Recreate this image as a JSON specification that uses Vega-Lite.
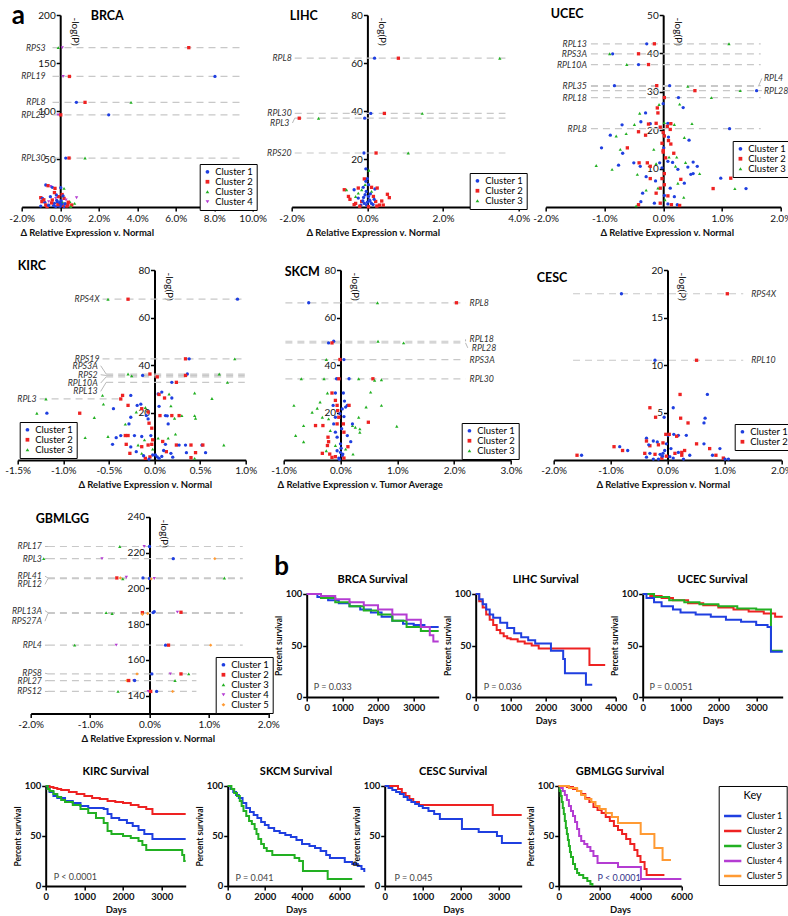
{
"$schema":"https://vega.github.io/schema/vega-lite/v6.json",
"padding":{"left":4.7,"top":3,"right":3,"bottom":3},
"config":{
 "font":"Lato, DejaVu Sans, sans-serif",
 "view":{"stroke":null},
 "axis":{"grid":false,"domainColor":"#000","tickColor":"#000","labelColor":"#111","titleColor":"#111","domainWidth":2,"tickWidth":1.5,"tickSize":4,"labelOverlap":false,"labelFlush":false},
 "title":{"fontWeight":"bold","color":"#000"},
 "concat":{"spacing":0}
},
"spacing":22,
"resolve":{"scale":{"color":"independent","shape":"independent"},"legend":{"color":"independent","shape":"independent"}},
"vconcat":[
{"bounds":"flush","spacing":0,
 "resolve":{"scale":{"color":"independent","shape":"independent"},"legend":{"color":"independent","shape":"independent"}},
 "hconcat":[
 {"width":3.3,"height":192,"data":{"values":[]},"mark":"point","title":{"text":"a","anchor":"start","frame":"group","fontSize":26,"offset":-14,"dx":-6}},
 {"width":231,"height":192,
  "title":{"text":"BRCA","anchor":"start","frame":"group","dx":69,"offset":-12,"fontSize":12.5},
  "layer":[
   {"data":{"name":"brca_g"},"mark":{"type":"rule","color":"#c8c8c8","strokeDash":[7,5],"strokeWidth":1.2},"encoding":{"x":{"field":"x0","type":"quantitative","scale":{"domain":[-2,10],"nice":false,"zero":false}},"x2":{"field":"x1"},"y":{"field":"y","type":"quantitative","scale":{"domain":[0,200],"nice":false,"zero":false}}}},
   {"data":{"name":"brca_g"},"mark":{"type":"text","align":"right","baseline":"middle","dx":-4,"fontStyle":"italic","fontSize":8.8,"color":"#333"},"encoding":{"x":{"field":"lx","type":"quantitative"},"y":{"field":"ly","type":"quantitative"},"text":{"field":"g"}}},
   {"data":{"name":"brca_p"},"mark":{"type":"point","filled":true,"size":11,"opacity":1},
    "encoding":{
     "x":{"field":"x","type":"quantitative","axis":{"values":[-2,0,2,4,6,8,10],"tickCount":20,"labelOverlap":false,"labelExpr":"replace(format(datum.value,'.1f'),'\u2212','-')+'%'","title":"Δ Relative Expression v. Normal","titleX":65,"titleY":25,"titleAlign":"center","titleBaseline":"middle","titleFontSize":9.5,"titleFontWeight":"bold","labelFontSize":10,"labelPadding":2}},
     "y":{"field":"y","type":"quantitative","axis":{"values":[50,100,150,200],"tickCount":20,"labelOverlap":false,"offset":-38.5,"title":"-log(P)","titleAngle":90,"titleX":9,"titleY":2,"titleAlign":"left","titleBaseline":"bottom","titleFontWeight":"normal","titleFontSize":10,"labelFontSize":10,"labelPadding":1}},
     "color":{"field":"c","type":"nominal","scale":{"domain":[1,2,3,4],"range":["#1f3fe0","#ee2222","#22b022","#b43cd2"]},"legend":{"orient":"none","legendX":178,"legendY":149,"title":null,"strokeColor":"#000","padding":3,"fillColor":"#fff","labelFontSize":9.5,"symbolSize":14,"rowPadding":-1,"labelOffset":3,"labelExpr":"'Cluster ' + datum.label"}},
     "shape":{"field":"c","type":"nominal","scale":{"domain":[1,2,3,4],"range":["circle","square","triangle-up","triangle-down"]}}}}
  ]},
 {"width":38.3,"height":192,"data":{"values":[]},"mark":"point"},
 {"width":227,"height":192,
  "title":{"text":"LIHC","anchor":"start","frame":"group","dx":-2,"offset":-12,"fontSize":12.5},
  "layer":[
   {"data":{"name":"lihc_g"},"mark":{"type":"rule","color":"#c8c8c8","strokeDash":[7,5],"strokeWidth":1.2},"encoding":{"x":{"field":"x0","type":"quantitative","scale":{"domain":[-2,4],"nice":false,"zero":false}},"x2":{"field":"x1"},"y":{"field":"y","type":"quantitative","scale":{"domain":[0,80],"nice":false,"zero":false}}}},
   {"data":{"name":"lihc_g"},"mark":{"type":"rule","color":"#999","strokeWidth":0.7},"encoding":{"x":{"field":"lx","type":"quantitative"},"x2":{"field":"x0"},"y":{"field":"ly","type":"quantitative"},"y2":{"field":"y"}}},
   {"data":{"name":"lihc_g"},"mark":{"type":"text","align":"right","baseline":"middle","dx":-3,"fontStyle":"italic","fontSize":8.8,"color":"#333"},"encoding":{"x":{"field":"lx","type":"quantitative"},"y":{"field":"ly","type":"quantitative"},"text":{"field":"g"}}},
   {"data":{"name":"lihc_p"},"mark":{"type":"point","filled":true,"size":11,"opacity":1},
    "encoding":{
     "x":{"field":"x","type":"quantitative","axis":{"values":[-2,0,2,4],"tickCount":20,"labelOverlap":false,"labelExpr":"replace(format(datum.value,'.1f'),'\u2212','-')+'%'","title":"Δ Relative Expression v. Normal","titleX":81,"titleY":25,"titleAlign":"center","titleBaseline":"middle","titleFontSize":9.5,"titleFontWeight":"bold","labelFontSize":10,"labelPadding":2}},
     "y":{"field":"y","type":"quantitative","axis":{"values":[20,40,60,80],"tickCount":20,"labelOverlap":false,"offset":-75.7,"title":"-log(P)","titleAngle":90,"titleX":9,"titleY":2,"titleAlign":"left","titleBaseline":"bottom","titleFontWeight":"normal","titleFontSize":10,"labelFontSize":10,"labelPadding":1}},
     "color":{"field":"c","type":"nominal","scale":{"domain":[1,2,3],"range":["#1f3fe0","#ee2222","#22b022"]},"legend":{"orient":"none","legendX":178,"legendY":158,"title":null,"strokeColor":"#000","padding":3,"fillColor":"#fff","labelFontSize":9.5,"symbolSize":14,"rowPadding":-1,"labelOffset":3,"labelExpr":"'Cluster ' + datum.label"}},
     "shape":{"field":"c","type":"nominal","scale":{"domain":[1,2,3],"range":["circle","square","triangle-up"]}}}}
  ]},
 {"width":26.7,"height":192,"data":{"values":[]},"mark":"point"},
 {"width":235,"height":192,
  "title":{"text":"UCEC","anchor":"start","frame":"group","dx":5,"offset":-10,"fontSize":12.5},
  "layer":[
   {"data":{"name":"ucec_g"},"mark":{"type":"rule","color":"#c8c8c8","strokeDash":[7,5],"strokeWidth":1.2},"encoding":{"x":{"field":"x0","type":"quantitative","scale":{"domain":[-2,2],"nice":false,"zero":false}},"x2":{"field":"x1"},"y":{"field":"y","type":"quantitative","scale":{"domain":[0,50],"nice":false,"zero":false}}}},
   {"data":{"name":"ucec_g"},"transform":[{"filter":"datum.s=='R'"}],"mark":{"type":"rule","color":"#999","strokeWidth":0.7},"encoding":{"x":{"field":"x1","type":"quantitative"},"x2":{"field":"lx"},"y":{"field":"y","type":"quantitative"},"y2":{"field":"ly"}}},
   {"data":{"name":"ucec_g"},"transform":[{"filter":"datum.s=='L'"}],"mark":{"type":"text","align":"right","baseline":"middle","dx":-4,"fontStyle":"italic","fontSize":8.8,"color":"#333"},"encoding":{"x":{"field":"lx","type":"quantitative"},"y":{"field":"ly","type":"quantitative"},"text":{"field":"g"}}},
   {"data":{"name":"ucec_g"},"transform":[{"filter":"datum.s=='R'"}],"mark":{"type":"text","align":"left","baseline":"middle","dx":2,"fontStyle":"italic","fontSize":8.8,"color":"#333"},"encoding":{"x":{"field":"lx","type":"quantitative"},"y":{"field":"ly","type":"quantitative"},"text":{"field":"g"}}},
   {"data":{"name":"ucec_p"},"mark":{"type":"point","filled":true,"size":11,"opacity":1},
    "encoding":{
     "x":{"field":"x","type":"quantitative","axis":{"values":[-2,-1,0,1,2],"tickCount":20,"labelOverlap":false,"labelExpr":"replace(format(datum.value,'.1f'),'\u2212','-')+'%'","title":"Δ Relative Expression v. Normal","titleX":121,"titleY":25,"titleAlign":"center","titleBaseline":"middle","titleFontSize":9.5,"titleFontWeight":"bold","labelFontSize":10,"labelPadding":2}},
     "y":{"field":"y","type":"quantitative","axis":{"values":[10,20,30,40,50],"tickCount":20,"labelOverlap":false,"offset":-117.5,"title":"-log(P)","titleAngle":90,"titleX":9,"titleY":2,"titleAlign":"left","titleBaseline":"bottom","titleFontWeight":"normal","titleFontSize":10,"labelFontSize":10,"labelPadding":1}},
     "color":{"field":"c","type":"nominal","scale":{"domain":[1,2,3],"range":["#1f3fe0","#ee2222","#22b022"]},"legend":{"orient":"none","legendX":187,"legendY":126,"title":null,"strokeColor":"#000","padding":3,"fillColor":"#fff","labelFontSize":9.5,"symbolSize":14,"rowPadding":-1,"labelOffset":3,"labelExpr":"'Cluster ' + datum.label"}},
     "shape":{"field":"c","type":"nominal","scale":{"domain":[1,2,3],"range":["circle","square","triangle-up"]}}}}
  ]}
 ]},
{"bounds":"flush","spacing":0,
 "resolve":{"scale":{"color":"independent","shape":"independent"},"legend":{"color":"independent","shape":"independent"}},
 "hconcat":[
 {"width":228,"height":190,
  "title":{"text":"KIRC","anchor":"start","frame":"group","dx":0,"offset":-7,"fontSize":12.5},
  "layer":[
   {"data":{"name":"kirc_g"},"mark":{"type":"rule","color":"#c8c8c8","strokeDash":[7,5],"strokeWidth":1.2},"encoding":{"x":{"field":"x0","type":"quantitative","scale":{"domain":[-1.5,1],"nice":false,"zero":false}},"x2":{"field":"x1"},"y":{"field":"y","type":"quantitative","scale":{"domain":[0,80],"nice":false,"zero":false}}}},
   {"data":{"name":"kirc_g"},"mark":{"type":"rule","color":"#999","strokeWidth":0.7},"encoding":{"x":{"field":"lx","type":"quantitative"},"x2":{"field":"x0"},"y":{"field":"ly","type":"quantitative"},"y2":{"field":"y"}}},
   {"data":{"name":"kirc_g"},"mark":{"type":"text","align":"right","baseline":"middle","dx":-3,"fontStyle":"italic","fontSize":8.8,"color":"#333"},"encoding":{"x":{"field":"lx","type":"quantitative"},"y":{"field":"ly","type":"quantitative"},"text":{"field":"g"}}},
   {"data":{"name":"kirc_p"},"mark":{"type":"point","filled":true,"size":11,"opacity":1},
    "encoding":{
     "x":{"field":"x","type":"quantitative","axis":{"values":[-1.5,-1,-0.5,0,0.5,1],"tickCount":20,"labelOverlap":false,"labelExpr":"replace(format(datum.value,'.1f'),'\u2212','-')+'%'","title":"Δ Relative Expression v. Normal","titleX":127,"titleY":25,"titleAlign":"center","titleBaseline":"middle","titleFontSize":9.5,"titleFontWeight":"bold","labelFontSize":10,"labelPadding":2}},
     "y":{"field":"y","type":"quantitative","axis":{"values":[20,40,60,80],"tickCount":20,"labelOverlap":false,"offset":-136.8,"title":"-log(P)","titleAngle":90,"titleX":9,"titleY":2,"titleAlign":"left","titleBaseline":"bottom","titleFontWeight":"normal","titleFontSize":10,"labelFontSize":10,"labelPadding":1}},
     "color":{"field":"c","type":"nominal","scale":{"domain":[1,2,3],"range":["#1f3fe0","#ee2222","#22b022"]},"legend":{"orient":"none","legendX":2,"legendY":152,"title":null,"strokeColor":"#000","padding":3,"fillColor":"#fff","labelFontSize":9.5,"symbolSize":14,"rowPadding":-1,"labelOffset":3,"labelExpr":"'Cluster ' + datum.label"}},
     "shape":{"field":"c","type":"nominal","scale":{"domain":[1,2,3],"range":["circle","square","triangle-up"]}}}}
  ]},
 {"width":38,"height":190,"data":{"values":[]},"mark":"point"},
 {"width":227.3,"height":190,
  "title":{"text":"SKCM","anchor":"start","frame":"group","dx":1,"offset":-13,"fontSize":12.5},
  "layer":[
   {"data":{"name":"skcm_g"},"mark":{"type":"rule","color":"#c8c8c8","strokeDash":[7,5],"strokeWidth":1.2},"encoding":{"x":{"field":"x0","type":"quantitative","scale":{"domain":[-1,3],"nice":false,"zero":false}},"x2":{"field":"x1"},"y":{"field":"y","type":"quantitative","scale":{"domain":[0,80],"nice":false,"zero":false}}}},
   {"data":{"name":"skcm_g"},"mark":{"type":"rule","color":"#999","strokeWidth":0.7},"encoding":{"x":{"field":"x1","type":"quantitative"},"x2":{"field":"lx"},"y":{"field":"y","type":"quantitative"},"y2":{"field":"ly"}}},
   {"data":{"name":"skcm_g"},"mark":{"type":"text","align":"left","baseline":"middle","dx":4,"fontStyle":"italic","fontSize":8.8,"color":"#333"},"encoding":{"x":{"field":"lx","type":"quantitative"},"y":{"field":"ly","type":"quantitative"},"text":{"field":"g"}}},
   {"data":{"name":"skcm_p"},"mark":{"type":"point","filled":true,"size":11,"opacity":1},
    "encoding":{
     "x":{"field":"x","type":"quantitative","axis":{"values":[-1,0,1,2,3],"tickCount":20,"labelOverlap":false,"labelExpr":"replace(format(datum.value,'.1f'),'\u2212','-')+'%'","title":"Δ Relative Expression v. Tumor Average","titleX":76,"titleY":25,"titleAlign":"center","titleBaseline":"middle","titleFontSize":9.5,"titleFontWeight":"bold","labelFontSize":10,"labelPadding":2}},
     "y":{"field":"y","type":"quantitative","axis":{"values":[20,40,60,80],"tickCount":20,"labelOverlap":false,"offset":-56.8,"title":"-log(P)","titleAngle":90,"titleX":9,"titleY":2,"titleAlign":"left","titleBaseline":"bottom","titleFontWeight":"normal","titleFontSize":10,"labelFontSize":10,"labelPadding":1}},
     "color":{"field":"c","type":"nominal","scale":{"domain":[1,2,3],"range":["#1f3fe0","#ee2222","#22b022"]},"legend":{"orient":"none","legendX":178,"legendY":153,"title":null,"strokeColor":"#000","padding":3,"fillColor":"#fff","labelFontSize":9.5,"symbolSize":14,"rowPadding":-1,"labelOffset":3,"labelExpr":"'Cluster ' + datum.label"}},
     "shape":{"field":"c","type":"nominal","scale":{"domain":[1,2,3],"range":["circle","square","triangle-up"]}}}}
  ]},
 {"width":42,"height":190,"data":{"values":[]},"mark":"point"},
 {"width":227.7,"height":190,
  "title":{"text":"CESC","anchor":"start","frame":"group","dx":-17,"offset":-19,"fontSize":12.5},
  "layer":[
   {"data":{"name":"cesc_g"},"mark":{"type":"rule","color":"#c8c8c8","strokeDash":[7,5],"strokeWidth":1.2},"encoding":{"x":{"field":"x0","type":"quantitative","scale":{"domain":[-2,2],"nice":false,"zero":false}},"x2":{"field":"x1"},"y":{"field":"y","type":"quantitative","scale":{"domain":[0,20],"nice":false,"zero":false}}}},
   {"data":{"name":"cesc_g"},"mark":{"type":"text","align":"left","baseline":"middle","dx":8,"fontStyle":"italic","fontSize":8.8,"color":"#333"},"encoding":{"x":{"field":"lx","type":"quantitative"},"y":{"field":"ly","type":"quantitative"},"text":{"field":"g"}}},
   {"data":{"name":"cesc_p"},"mark":{"type":"point","filled":true,"size":11,"opacity":1},
    "encoding":{
     "x":{"field":"x","type":"quantitative","axis":{"values":[-2,-1,0,1,2],"tickCount":20,"labelOverlap":false,"labelExpr":"replace(format(datum.value,'.1f'),'\u2212','-')+'%'","title":"Δ Relative Expression v. Normal","titleX":109,"titleY":25,"titleAlign":"center","titleBaseline":"middle","titleFontSize":9.5,"titleFontWeight":"bold","labelFontSize":10,"labelPadding":2}},
     "y":{"field":"y","type":"quantitative","axis":{"values":[5,10,15,20],"tickCount":20,"labelOverlap":false,"offset":-113.8,"title":"-log(P)","titleAngle":90,"titleX":9,"titleY":2,"titleAlign":"left","titleBaseline":"bottom","titleFontWeight":"normal","titleFontSize":10,"labelFontSize":10,"labelPadding":1}},
     "color":{"field":"c","type":"nominal","scale":{"domain":[1,2],"range":["#1f3fe0","#ee2222"]},"legend":{"orient":"none","legendX":181,"legendY":154,"title":null,"strokeColor":"#000","padding":3,"fillColor":"#fff","labelFontSize":9.5,"symbolSize":14,"rowPadding":-1,"labelOffset":3,"labelExpr":"'Cluster ' + datum.label"}},
     "shape":{"field":"c","type":"nominal","scale":{"domain":[1,2],"range":["circle","square"]}}}}
  ]}
 ]},
{"bounds":"flush","spacing":0,
 "resolve":{"scale":{"color":"independent","shape":"independent"},"legend":{"color":"independent","shape":"independent"}},
 "hconcat":[
 {"width":13,"height":196.6,"data":{"values":[]},"mark":"point"},
 {"width":237.6,"height":196.6,
  "title":{"text":"GBMLGG","anchor":"start","frame":"group","dx":5,"offset":-14,"fontSize":12.5},
  "layer":[
   {"data":{"name":"gbm_g"},"mark":{"type":"rule","color":"#c8c8c8","strokeDash":[7,5],"strokeWidth":1.2},"encoding":{"x":{"field":"x0","type":"quantitative","scale":{"domain":[-2,2],"nice":false,"zero":false}},"x2":{"field":"x1"},"y":{"field":"y","type":"quantitative","scale":{"domain":[130,240],"nice":false,"zero":false}}}},
   {"data":{"name":"gbm_g"},"mark":{"type":"rule","color":"#999","strokeWidth":0.7},"encoding":{"x":{"field":"lx","type":"quantitative"},"x2":{"field":"x0"},"y":{"field":"ly","type":"quantitative"},"y2":{"field":"y"}}},
   {"data":{"name":"gbm_g"},"mark":{"type":"text","align":"right","baseline":"middle","dx":-3,"fontStyle":"italic","fontSize":8.8,"color":"#333"},"encoding":{"x":{"field":"lx","type":"quantitative"},"y":{"field":"ly","type":"quantitative"},"text":{"field":"g"}}},
   {"data":{"name":"gbm_p"},"mark":{"type":"point","filled":true,"size":11,"opacity":1},
    "encoding":{
     "x":{"field":"x","type":"quantitative","axis":{"values":[-2,-1,0,1,2],"tickCount":20,"labelOverlap":false,"labelExpr":"replace(format(datum.value,'.1f'),'\u2212','-')+'%'","title":"Δ Relative Expression v. Normal","titleX":117,"titleY":25,"titleAlign":"center","titleBaseline":"middle","titleFontSize":9.5,"titleFontWeight":"bold","labelFontSize":10,"labelPadding":2}},
     "y":{"field":"y","type":"quantitative","axis":{"values":[140,160,180,200,220,240],"tickCount":20,"labelOverlap":false,"offset":-118.8,"title":"-log(P)","titleAngle":90,"titleX":9,"titleY":2,"titleAlign":"left","titleBaseline":"bottom","titleFontWeight":"normal","titleFontSize":10,"labelFontSize":10,"labelPadding":1}},
     "color":{"field":"c","type":"nominal","scale":{"domain":[1,2,3,4,5],"range":["#1f3fe0","#ee2222","#22b022","#b43cd2","#ff9a33"]},"legend":{"orient":"none","legendX":185,"legendY":140,"title":null,"strokeColor":"#000","padding":3,"fillColor":"#fff","labelFontSize":9.5,"symbolSize":14,"rowPadding":-1,"labelOffset":3,"labelExpr":"'Cluster ' + datum.label"}},
     "shape":{"field":"c","type":"nominal","scale":{"domain":[1,2,3,4,5],"range":["circle","square","triangle-up","triangle-down","diamond"]}}}}
  ]},
 {"width":37.7,"height":196.6,"data":{"values":[]},"mark":"point"},
 {"spacing":2,
  "resolve":{"scale":{"color":"independent","shape":"independent"},"legend":{"color":"independent","shape":"independent"}},
  "vconcat":[
  {"width":10,"height":35,"data":{"values":[]},"mark":"point"},
  {"title":{"text":"b","anchor":"start","frame":"bounds","fontSize":26,"offset":-6},
   "bounds":"flush","spacing":0,
   "resolve":{"scale":{"color":"independent","shape":"independent"},"legend":{"color":"independent","shape":"independent"}},
   "hconcat":[
   {"width":132,"height":103,"title":{"text":"BRCA Survival","fontSize":11,"offset":4},
    "layer":[
     {"data":{"name":"brca_s"},"mark":{"type":"line","interpolate":"step-after","strokeWidth":2},
      "encoding":{"x":{"field":"t","type":"quantitative","scale":{"domain":[0,3700],"nice":false,"zero":false},"axis":{"values":[0,1000,2000,3000],"tickCount":20,"labelOverlap":false,"format":"d","title":"Days","titleFontSize":9.5,"titleFontWeight":"bold","labelFontWeight":"bold","labelFontSize":9.5,"labelPadding":2,"titlePadding":3}},
       "y":{"field":"s","type":"quantitative","scale":{"domain":[0,100],"nice":false},"axis":{"values":[0,50,100],"tickCount":20,"labelOverlap":false,"title":"Percent survival","titleFontSize":8.5,"titleFontWeight":"bold","labelFontWeight":"bold","labelFontSize":9.5,"labelPadding":1,"titlePadding":2}},
       "color":{"field":"c","type":"nominal","scale":{"domain":[1,3,4],"range":["#1f3fe0","#22b022","#b43cd2"]},"legend":null}}},
     {"data":{"values":[{"p":"P = 0.033","t":200,"s":10}]},"mark":{"type":"text","align":"left","baseline":"middle","fontSize":9,"color":"#444"},"encoding":{"x":{"field":"t","type":"quantitative"},"y":{"field":"s","type":"quantitative"},"text":{"field":"p"}}}
    ]},
   {"width":37,"height":103,"data":{"values":[]},"mark":"point"},
   {"width":140,"height":103,"title":{"text":"LIHC Survival","fontSize":11,"offset":4},
    "layer":[
     {"data":{"name":"lihc_s"},"mark":{"type":"line","interpolate":"step-after","strokeWidth":2},
      "encoding":{"x":{"field":"t","type":"quantitative","scale":{"domain":[0,4000],"nice":false,"zero":false},"axis":{"values":[0,1000,2000,3000,4000],"tickCount":20,"labelOverlap":false,"format":"d","title":"Days","titleFontSize":9.5,"titleFontWeight":"bold","labelFontWeight":"bold","labelFontSize":9.5,"labelPadding":2,"titlePadding":3}},
       "y":{"field":"s","type":"quantitative","scale":{"domain":[0,100],"nice":false},"axis":{"values":[0,50,100],"tickCount":20,"labelOverlap":false,"title":"Percent survival","titleFontSize":8.5,"titleFontWeight":"bold","labelFontWeight":"bold","labelFontSize":9.5,"labelPadding":1,"titlePadding":2}},
       "color":{"field":"c","type":"nominal","scale":{"domain":[1,2],"range":["#1f3fe0","#ee2222"]},"legend":null}}},
     {"data":{"values":[{"p":"P = 0.036","t":230,"s":10}]},"mark":{"type":"text","align":"left","baseline":"middle","fontSize":9,"color":"#444"},"encoding":{"x":{"field":"t","type":"quantitative"},"y":{"field":"s","type":"quantitative"},"text":{"field":"p"}}}
    ]},
   {"width":26.7,"height":103,"data":{"values":[]},"mark":"point"},
   {"width":140,"height":103,"title":{"text":"UCEC Survival","fontSize":11,"offset":4},
    "layer":[
     {"data":{"name":"ucec_s"},"mark":{"type":"line","interpolate":"step-after","strokeWidth":2},
      "encoding":{"x":{"field":"t","type":"quantitative","scale":{"domain":[0,3700],"nice":false,"zero":false},"axis":{"values":[0,1000,2000,3000],"tickCount":20,"labelOverlap":false,"format":"d","title":"Days","titleFontSize":9.5,"titleFontWeight":"bold","labelFontWeight":"bold","labelFontSize":9.5,"labelPadding":2,"titlePadding":3}},
       "y":{"field":"s","type":"quantitative","scale":{"domain":[0,100],"nice":false},"axis":{"values":[0,50,100],"tickCount":20,"labelOverlap":false,"title":"Percent survival","titleFontSize":8.5,"titleFontWeight":"bold","labelFontWeight":"bold","labelFontSize":9.5,"labelPadding":1,"titlePadding":2}},
       "color":{"field":"c","type":"nominal","scale":{"domain":[1,2,3],"range":["#1f3fe0","#ee2222","#22b022"]},"legend":null}}},
     {"data":{"values":[{"p":"P = 0.0051","t":180,"s":10}]},"mark":{"type":"text","align":"left","baseline":"middle","fontSize":9,"color":"#444"},"encoding":{"x":{"field":"t","type":"quantitative"},"y":{"field":"s","type":"quantitative"},"text":{"field":"p"}}}
    ]}
   ]}
  ]}
 ]},
{"bounds":"flush","spacing":0,
 "resolve":{"scale":{"color":"independent","shape":"independent"},"legend":{"color":"independent","shape":"independent"}},
 "hconcat":[
 {"width":27.3,"height":100,"data":{"values":[]},"mark":"point"},
 {"width":140,"height":100,"title":{"text":"KIRC Survival","fontSize":11,"offset":4},
  "layer":[
   {"data":{"name":"kirc_s"},"mark":{"type":"line","interpolate":"step-after","strokeWidth":2},
    "encoding":{"x":{"field":"t","type":"quantitative","scale":{"domain":[0,3620],"nice":false,"zero":false},"axis":{"values":[0,1000,2000,3000],"tickCount":20,"labelOverlap":false,"format":"d","title":"Days","titleFontSize":9.5,"titleFontWeight":"bold","labelFontWeight":"bold","labelFontSize":9.5,"labelPadding":2,"titlePadding":3}},
     "y":{"field":"s","type":"quantitative","scale":{"domain":[0,100],"nice":false},"axis":{"values":[0,50,100],"tickCount":20,"labelOverlap":false,"title":"Percent survival","titleFontSize":8.5,"titleFontWeight":"bold","labelFontWeight":"bold","labelFontSize":9.5,"labelPadding":1,"titlePadding":2}},
     "color":{"field":"c","type":"nominal","scale":{"domain":[1,2,3],"range":["#1f3fe0","#ee2222","#22b022"]},"legend":null}}},
   {"data":{"values":[{"p":"P < 0.0001","t":210,"s":9}]},"mark":{"type":"text","align":"left","baseline":"middle","fontSize":9,"color":"#444"},"encoding":{"x":{"field":"t","type":"quantitative"},"y":{"field":"s","type":"quantitative"},"text":{"field":"p"}}}
  ]},
 {"width":41.7,"height":100,"data":{"values":[]},"mark":"point"},
 {"width":136.6,"height":100,"title":{"text":"SKCM Survival","fontSize":11,"offset":4},
  "layer":[
   {"data":{"name":"skcm_s"},"mark":{"type":"line","interpolate":"step-after","strokeWidth":2},
    "encoding":{"x":{"field":"t","type":"quantitative","scale":{"domain":[0,7350],"nice":false,"zero":false},"axis":{"values":[0,2000,4000,6000],"tickCount":20,"labelOverlap":false,"format":"d","title":"Days","titleFontSize":9.5,"titleFontWeight":"bold","labelFontWeight":"bold","labelFontSize":9.5,"labelPadding":2,"titlePadding":3}},
     "y":{"field":"s","type":"quantitative","scale":{"domain":[0,100],"nice":false},"axis":{"values":[0,50,100],"tickCount":20,"labelOverlap":false,"title":"Percent survival","titleFontSize":8.5,"titleFontWeight":"bold","labelFontWeight":"bold","labelFontSize":9.5,"labelPadding":1,"titlePadding":2}},
     "color":{"field":"c","type":"nominal","scale":{"domain":[1,3],"range":["#1f3fe0","#22b022"]},"legend":null}}},
   {"data":{"values":[{"p":"P = 0.041","t":420,"s":8}]},"mark":{"type":"text","align":"left","baseline":"middle","fontSize":9,"color":"#444"},"encoding":{"x":{"field":"t","type":"quantitative"},"y":{"field":"s","type":"quantitative"},"text":{"field":"p"}}}
  ]},
 {"width":19.7,"height":100,"data":{"values":[]},"mark":"point"},
 {"width":137,"height":100,"title":{"text":"CESC Survival","fontSize":11,"offset":4},
  "layer":[
   {"data":{"name":"cesc_s"},"mark":{"type":"line","interpolate":"step-after","strokeWidth":2},
    "encoding":{"x":{"field":"t","type":"quantitative","scale":{"domain":[0,3600],"nice":false,"zero":false},"axis":{"values":[0,1000,2000,3000],"tickCount":20,"labelOverlap":false,"format":"d","title":"Days","titleFontSize":9.5,"titleFontWeight":"bold","labelFontWeight":"bold","labelFontSize":9.5,"labelPadding":2,"titlePadding":3}},
     "y":{"field":"s","type":"quantitative","scale":{"domain":[0,100],"nice":false},"axis":{"values":[0,50,100],"tickCount":20,"labelOverlap":false,"title":"Percent survival","titleFontSize":8.5,"titleFontWeight":"bold","labelFontWeight":"bold","labelFontSize":9.5,"labelPadding":1,"titlePadding":2}},
     "color":{"field":"c","type":"nominal","scale":{"domain":[1,2],"range":["#1f3fe0","#ee2222"]},"legend":null}}},
   {"data":{"values":[{"p":"P = 0.045","t":260,"s":8}]},"mark":{"type":"text","align":"left","baseline":"middle","fontSize":9,"color":"#444"},"encoding":{"x":{"field":"t","type":"quantitative"},"y":{"field":"s","type":"quantitative"},"text":{"field":"p"}}}
  ]},
 {"width":36.3,"height":100,"data":{"values":[]},"mark":"point"},
 {"width":122.7,"height":100,"title":{"text":"GBMLGG Survival","fontSize":11,"offset":4},
  "layer":[
   {"data":{"name":"gbm_s"},"mark":{"type":"line","interpolate":"step-after","strokeWidth":2},
    "encoding":{"x":{"field":"t","type":"quantitative","scale":{"domain":[0,6000],"nice":false,"zero":false},"axis":{"values":[0,2000,4000,6000],"tickCount":20,"labelOverlap":false,"format":"d","title":"Days","titleFontSize":9.5,"titleFontWeight":"bold","labelFontWeight":"bold","labelFontSize":9.5,"labelPadding":2,"titlePadding":3}},
     "y":{"field":"s","type":"quantitative","scale":{"domain":[0,100],"nice":false},"axis":{"values":[0,50,100],"tickCount":20,"labelOverlap":false,"title":"Percent survival","titleFontSize":8.5,"titleFontWeight":"bold","labelFontWeight":"bold","labelFontSize":9.5,"labelPadding":1,"titlePadding":2}},
     "color":{"field":"c","type":"nominal","scale":{"domain":[1,2,3,4,5],"range":["#1f3fe0","#ee2222","#22b022","#b43cd2","#ff9a33"]},"legend":{"title":"Key","orient":"right","offset":33,"symbolType":"stroke","symbolStrokeWidth":2.5,"symbolSize":300,"strokeColor":"#000","padding":4,"labelFontSize":9,"titleFontSize":11,"titleFontWeight":"normal","titleAnchor":"middle","rowPadding":0,"labelExpr":"'Cluster ' + datum.label"}}}},
   {"data":{"values":[{"p":"P < 0.0001","t":1900,"s":8}]},"mark":{"type":"text","align":"left","baseline":"middle","fontSize":9,"color":"#33338a"},"encoding":{"x":{"field":"t","type":"quantitative"},"y":{"field":"s","type":"quantitative"},"text":{"field":"p"}}}
  ]}
 ]}
],
"datasets":{
"brca_g":[
{"g":"RPS3","y":166,"x0":-0.4,"x1":9.5,"lx":-0.55,"ly":166},
{"g":"RPL19","y":136,"x0":-0.4,"x1":9.5,"lx":-0.55,"ly":136},
{"g":"RPL8","y":109,"x0":-0.4,"x1":9.5,"lx":-0.55,"ly":109},
{"g":"RPL23","y":96,"x0":-0.4,"x1":9.5,"lx":-0.55,"ly":96},
{"g":"RPL30","y":51,"x0":-0.4,"x1":9.5,"lx":-0.55,"ly":51}
],
"brca_p":[
{"x":6.68,"y":166,"c":2},{"x":-0.1,"y":166,"c":3},{"x":0.11,"y":166,"c":4},
{"x":0.15,"y":136,"c":4},{"x":0.48,"y":136,"c":2},{"x":8.04,"y":136,"c":1},
{"x":0.84,"y":109,"c":1},{"x":1.29,"y":109,"c":2},{"x":3.68,"y":109,"c":3},
{"x":-0.11,"y":96,"c":4},{"x":0.03,"y":96,"c":2},{"x":2.52,"y":96,"c":1},
{"x":0.29,"y":51,"c":1},{"x":0.46,"y":51,"c":2},{"x":1.29,"y":51,"c":3},
{"x":-0.75,"y":22.9,"c":1},{"x":-0.63,"y":22.2,"c":2},{"x":-0.5,"y":21.5,"c":4},{"x":-0.41,"y":20.5,"c":1},{"x":-0.27,"y":19.4,"c":2},{"x":0.03,"y":20.1,"c":1},{"x":0.2,"y":19.4,"c":3},
{"x":-1.01,"y":9.7,"c":2},{"x":-0.92,"y":9,"c":1},{"x":-0.95,"y":5.6,"c":2},{"x":-0.8,"y":4.9,"c":1},{"x":-0.75,"y":2.1,"c":2},{"x":-1.01,"y":1,"c":1},{"x":-0.68,"y":0.4,"c":2},{"x":-0.6,"y":5.6,"c":4},{"x":-0.51,"y":10.8,"c":1},{"x":-0.41,"y":7.3,"c":2},{"x":-0.3,"y":3.8,"c":1},{"x":-0.23,"y":9,"c":4},{"x":-0.15,"y":5.6,"c":1},{"x":-0.08,"y":10.8,"c":2},{"x":0.03,"y":2.1,"c":1},{"x":0.13,"y":4.9,"c":3},{"x":0.2,"y":9,"c":2},{"x":0.2,"y":0.4,"c":1},{"x":0.3,"y":7.3,"c":4},{"x":0.4,"y":2.8,"c":2},{"x":0.5,"y":5.6,"c":3},{"x":0.6,"y":2.1,"c":2},{"x":0.85,"y":9.7,"c":4},{"x":0.75,"y":3.8,"c":3},{"x":-0.23,"y":0.4,"c":1},{"x":-0.35,"y":1.5,"c":1},{"x":-0.1,"y":1.2,"c":1},{"x":0.05,"y":6.5,"c":1},{"x":-0.05,"y":3.2,"c":1},{"x":0.1,"y":1.5,"c":2},{"x":-0.45,"y":4.2,"c":2},{"x":-0.6,"y":1.8,"c":1},{"x":0.35,"y":1,"c":2},{"x":0.55,"y":0.5,"c":3},{"x":-0.2,"y":12.5,"c":1},{"x":0.1,"y":13,"c":2},{"x":-0.85,"y":7.5,"c":2},{"x":0.15,"y":11.5,"c":1},{"x":-0.3,"y":15,"c":2},{"x":0,"y":0.8,"c":1},{"x":-0.12,"y":2.5,"c":2},{"x":0.25,"y":3.5,"c":1},{"x":0.42,"y":5,"c":2},{"x":-0.02,"y":4.5,"c":1},{"x":0.08,"y":3,"c":1},{"x":-0.18,"y":7,"c":1}
],
"lihc_g":[
{"g":"RPL8","y":62,"x0":-1.92,"x1":3.65,"lx":-1.92,"ly":62},
{"g":"RPL30","y":39,"x0":-1.92,"x1":3.65,"lx":-1.92,"ly":39},
{"g":"RPL3","y":37,"x0":-1.92,"x1":3.65,"lx":-1.98,"ly":35},
{"g":"RPS20","y":22.5,"x0":-1.92,"x1":3.65,"lx":-1.92,"ly":22.5}
],
"lihc_p":[
{"x":0.19,"y":62,"c":1},{"x":0.82,"y":62,"c":2},{"x":3.5,"y":62,"c":3},{"x":0.09,"y":39,"c":1},{"x":0.45,"y":39,"c":2},{"x":1.45,"y":39,"c":3},{"x":-1.8,"y":37,"c":2},{"x":-1.29,"y":37,"c":3},{"x":-0.07,"y":37,"c":1},{"x":-0.09,"y":22.5,"c":1},{"x":0.23,"y":22.5,"c":2},{"x":1.08,"y":22.5,"c":3},
{"x":-0.04,"y":15.9,"c":1},{"x":0.04,"y":15.3,"c":3},{"x":0,"y":11.8,"c":1},{"x":-0.08,"y":11.7,"c":2},{"x":0.03,"y":9.3,"c":1},{"x":-0.61,"y":7.2,"c":2},{"x":-0.55,"y":7.2,"c":3},{"x":-0.35,"y":7.2,"c":1},{"x":-0.24,"y":7.9,"c":2},{"x":-0.11,"y":8.2,"c":1},{"x":0.11,"y":8.2,"c":2},{"x":0.2,"y":7.5,"c":1},{"x":0.26,"y":7.9,"c":2},{"x":0.53,"y":5.3,"c":2},{"x":0.58,"y":3.9,"c":2},{"x":-0.31,"y":4.4,"c":3},{"x":-0.5,"y":4.4,"c":2},{"x":-0.46,"y":3.2,"c":2},{"x":-0.24,"y":3.7,"c":1},{"x":-0.15,"y":2.3,"c":2},{"x":-0.31,"y":1.5,"c":2},{"x":-0.06,"y":5.1,"c":1},{"x":0.03,"y":4.4,"c":1},{"x":0.07,"y":2.5,"c":1},{"x":0.16,"y":4.4,"c":2},{"x":0.22,"y":2.3,"c":2},{"x":0.32,"y":0.8,"c":2},{"x":0.42,"y":0.8,"c":2},{"x":-0.02,"y":0.8,"c":1},{"x":-0.24,"y":5.8,"c":3},{"x":0.11,"y":6.5,"c":3},{"x":-0.12,"y":2.5,"c":1},{"x":0.11,"y":1.5,"c":1},{"x":0.03,"y":0.1,"c":2},{"x":-0.17,"y":0.8,"c":1},{"x":-0.15,"y":7.2,"c":3},{"x":-0.04,"y":10.7,"c":1},{"x":-0.06,"y":9.3,"c":3},{"x":0.05,"y":3,"c":1},{"x":-0.08,"y":1.5,"c":1},{"x":0.15,"y":1,"c":1},{"x":-0.2,"y":0.3,"c":2},{"x":0.25,"y":0.4,"c":2},{"x":0,"y":2,"c":1},{"x":-0.1,"y":4,"c":1},{"x":0.08,"y":5.5,"c":1},{"x":-0.03,"y":6.5,"c":1},{"x":0.18,"y":3.2,"c":1},{"x":-0.35,"y":1,"c":2},{"x":0.38,"y":2.5,"c":2}
],
"ucec_g":[
{"g":"RPL13","y":42.5,"x0":-1.23,"x1":1.66,"s":"L","lx":-1.23,"ly":42.5},
{"g":"RPS3A","y":39.9,"x0":-1.23,"x1":1.66,"s":"L","lx":-1.23,"ly":39.9},
{"g":"RPL10A","y":37.1,"x0":-1.23,"x1":1.66,"s":"L","lx":-1.23,"ly":37.1},
{"g":"RPL35","y":31.6,"x0":-1.23,"x1":1.66,"s":"L","lx":-1.23,"ly":31.6},
{"g":"RPL18","y":28.5,"x0":-1.23,"x1":1.66,"s":"L","lx":-1.23,"ly":28.5},
{"g":"RPL8","y":20.4,"x0":-1.23,"x1":1.66,"s":"L","lx":-1.23,"ly":20.4},
{"g":"RPL4","y":31.4,"x0":-1.23,"x1":1.62,"s":"R","lx":1.68,"ly":33.5},
{"g":"RPL28","y":30.3,"x0":-1.23,"x1":1.62,"s":"R","lx":1.68,"ly":30.3}
],
"ucec_p":[
{"x":-0.28,"y":42.5,"c":1},{"x":-0.15,"y":42.5,"c":2},{"x":1.12,"y":42.5,"c":3},{"x":-0.91,"y":39.9,"c":3},{"x":-0.86,"y":39.9,"c":1},{"x":-0.42,"y":39.9,"c":2},{"x":-0.62,"y":37.1,"c":3},{"x":-0.42,"y":37.1,"c":1},{"x":-0.25,"y":37.1,"c":2},{"x":-0.83,"y":31.6,"c":1},{"x":-0.11,"y":31.6,"c":2},{"x":0.11,"y":31.6,"c":1},{"x":0.42,"y":31.4,"c":3},{"x":0.54,"y":30.3,"c":2},{"x":1.31,"y":30.3,"c":3},{"x":1.59,"y":30.3,"c":1},{"x":0.02,"y":28.5,"c":2},{"x":0.26,"y":28.5,"c":1},{"x":0.82,"y":28.5,"c":3},{"x":1.13,"y":20.4,"c":1},
{"x":-0.4,"y":24.4,"c":3},{"x":-0.3,"y":24.5,"c":1},{"x":-0.09,"y":24.5,"c":2},{"x":0,"y":26.9,"c":1},{"x":-0.07,"y":26.7,"c":3},{"x":-0.1,"y":25.8,"c":2},{"x":0.28,"y":26.8,"c":3},{"x":0.34,"y":25.9,"c":1},{"x":-0.38,"y":22.2,"c":1},{"x":-0.49,"y":21.5,"c":3},{"x":-0.22,"y":21.7,"c":1},{"x":-0.25,"y":21.6,"c":2},{"x":-0.12,"y":21.8,"c":2},{"x":0.02,"y":22,"c":3},{"x":0.08,"y":21.8,"c":1},{"x":0.13,"y":21.7,"c":2},{"x":0.19,"y":21.5,"c":3},{"x":0.49,"y":21.7,"c":3},{"x":-0.7,"y":21.4,"c":1},{"x":-0.9,"y":18.7,"c":1},{"x":-0.8,"y":18.5,"c":3},{"x":-0.63,"y":19.1,"c":3},{"x":-0.42,"y":19.6,"c":2},{"x":-0.3,"y":18.7,"c":2},{"x":0.09,"y":18.2,"c":1},{"x":0.36,"y":18.1,"c":3},{"x":0.44,"y":17.4,"c":1},{"x":0.09,"y":17.3,"c":2},{"x":0.13,"y":16.4,"c":2},{"x":-1.05,"y":15.4,"c":1},{"x":-0.73,"y":15,"c":3},{"x":-0.61,"y":15.4,"c":2},{"x":-0.69,"y":14,"c":1},{"x":-0.16,"y":15,"c":3},{"x":0.01,"y":15.4,"c":1},{"x":0,"y":14.3,"c":2},{"x":0.18,"y":14,"c":2},{"x":0.1,"y":13,"c":3},{"x":0.08,"y":11.9,"c":1},{"x":0.23,"y":13,"c":3},{"x":-0.06,"y":11.5,"c":1},{"x":-1.14,"y":10.8,"c":3},{"x":-0.76,"y":10.9,"c":1},{"x":-0.87,"y":9.8,"c":3},{"x":-0.5,"y":11.5,"c":1},{"x":-0.41,"y":11.5,"c":2},{"x":-0.39,"y":10.6,"c":1},{"x":-0.12,"y":11.3,"c":3},{"x":-0.27,"y":11.5,"c":2},{"x":-0.22,"y":10.6,"c":2},{"x":0.16,"y":11.6,"c":1},{"x":0.21,"y":10.6,"c":3},{"x":0.25,"y":9.8,"c":1},{"x":0.38,"y":11.6,"c":3},{"x":0.42,"y":10.4,"c":1},{"x":0.51,"y":11.7,"c":1},{"x":0.58,"y":10.6,"c":1},{"x":0.62,"y":8.7,"c":3},{"x":0.47,"y":8.5,"c":1},{"x":0.51,"y":8.7,"c":1},{"x":0.98,"y":7.5,"c":1},{"x":1.15,"y":7.5,"c":2},{"x":0.85,"y":4.8,"c":2},{"x":1.22,"y":4.8,"c":3},{"x":1.41,"y":4.8,"c":1},{"x":-0.44,"y":8.5,"c":3},{"x":-0.29,"y":7.9,"c":1},{"x":-0.22,"y":7.4,"c":2},{"x":-0.13,"y":6.8,"c":1},{"x":0.25,"y":6.2,"c":3},{"x":0.3,"y":7.2,"c":2},{"x":0.36,"y":6.2,"c":1},{"x":0.02,"y":5.8,"c":2},{"x":-0.05,"y":4.9,"c":2},{"x":0.12,"y":4.9,"c":1},{"x":-0.09,"y":4.9,"c":3},{"x":-0.29,"y":4.4,"c":3},{"x":-0.35,"y":3.6,"c":1},{"x":-0.12,"y":3.6,"c":2},{"x":0.02,"y":3,"c":1},{"x":0.08,"y":2.9,"c":2},{"x":0.19,"y":2.7,"c":1},{"x":0.35,"y":2.5,"c":3},{"x":-0.38,"y":1.4,"c":1},{"x":-0.42,"y":0.6,"c":2},{"x":-0.46,"y":0.3,"c":3},{"x":-0.15,"y":1,"c":1},{"x":-0.05,"y":1,"c":2},{"x":0.08,"y":0.8,"c":1},{"x":0.14,"y":0.6,"c":2},{"x":0.24,"y":0.6,"c":1},{"x":0.28,"y":0.4,"c":2},{"x":0.03,"y":1.9,"c":3},{"x":-0.02,"y":7.4,"c":2},{"x":0.02,"y":8.7,"c":2},{"x":-0.02,"y":10.2,"c":1},{"x":0.04,"y":12.8,"c":2},{"x":0,"y":19.4,"c":2},{"x":0.02,"y":18.5,"c":2},{"x":-0.02,"y":16.6,"c":2},{"x":0,"y":14.7,"c":2},{"x":0.07,"y":21,"c":2},{"x":0.12,"y":20.2,"c":2},{"x":-0.05,"y":20.8,"c":2}
],
"kirc_g":[
{"g":"RPS4X","y":67.7,"x0":-0.57,"x1":0.99,"lx":-0.57,"ly":67.7},
{"g":"RPS19","y":42.6,"x0":-0.57,"x1":0.99,"lx":-0.57,"ly":42.6},
{"g":"RPS3A","y":36.2,"x0":-0.53,"x1":0.99,"lx":-0.59,"ly":39.7},
{"g":"RPS2","y":35.6,"x0":-0.53,"x1":0.99,"lx":-0.59,"ly":35.9},
{"g":"RPL10A","y":35,"x0":-0.53,"x1":0.99,"lx":-0.59,"ly":32.4},
{"g":"RPL13","y":32.7,"x0":-0.53,"x1":0.99,"lx":-0.59,"ly":28.9},
{"g":"RPL3","y":25.7,"x0":-1.26,"x1":-0.38,"lx":-1.26,"ly":25.7}
],
"kirc_p":[
{"x":-0.51,"y":67.7,"c":3},{"x":-0.29,"y":67.7,"c":2},{"x":0.91,"y":67.7,"c":1},{"x":0.34,"y":42.6,"c":2},{"x":0.38,"y":42.6,"c":1},{"x":0.88,"y":42.6,"c":3},{"x":-0.29,"y":36.2,"c":3},{"x":-0.05,"y":36.2,"c":2},{"x":0.36,"y":36.2,"c":1},{"x":0.71,"y":36.2,"c":3},{"x":-0.13,"y":35.6,"c":1},{"x":0.34,"y":35.6,"c":2},{"x":-0.25,"y":35.4,"c":3},{"x":0.03,"y":35,"c":2},{"x":0.19,"y":32.7,"c":1},{"x":0.24,"y":32.7,"c":2},{"x":0.8,"y":32.7,"c":3},{"x":-1.19,"y":25.7,"c":3},
{"x":-1.29,"y":19.7,"c":3},{"x":-1.18,"y":19.7,"c":1},{"x":-0.82,"y":19.7,"c":2},{"x":-0.66,"y":17.9,"c":3},{"x":-0.57,"y":27.2,"c":3},{"x":-0.56,"y":23.5,"c":3},{"x":-0.45,"y":21.6,"c":1},{"x":-0.37,"y":25.7,"c":2},{"x":-0.35,"y":27.2,"c":2},{"x":-0.26,"y":27.2,"c":1},{"x":-0.29,"y":23,"c":2},{"x":-0.26,"y":18,"c":1},{"x":-0.28,"y":15.2,"c":1},{"x":-0.19,"y":23,"c":1},{"x":-0.15,"y":23.5,"c":1},{"x":-0.14,"y":21.6,"c":2},{"x":-0.1,"y":22.1,"c":3},{"x":-0.08,"y":20.7,"c":3},{"x":-0.07,"y":20.2,"c":2},{"x":-0.09,"y":18.7,"c":1},{"x":-0.2,"y":20.2,"c":3},{"x":0.04,"y":27.8,"c":1},{"x":0.05,"y":27.6,"c":2},{"x":0.08,"y":28.6,"c":1},{"x":0.11,"y":26.1,"c":2},{"x":0.05,"y":22.6,"c":1},{"x":0.06,"y":18.7,"c":2},{"x":0.12,"y":18.7,"c":1},{"x":0.14,"y":18.6,"c":1},{"x":0.16,"y":27.8,"c":3},{"x":0.19,"y":26.1,"c":1},{"x":0.18,"y":22.8,"c":3},{"x":0.19,"y":18.7,"c":2},{"x":0.22,"y":17.6,"c":3},{"x":0.27,"y":18.7,"c":2},{"x":0.3,"y":18.7,"c":3},{"x":0.15,"y":15.2,"c":1},{"x":0.44,"y":28.2,"c":3},{"x":0.44,"y":18.7,"c":3},{"x":0.45,"y":17.6,"c":3},{"x":0.63,"y":25.9,"c":3},{"x":-0.42,"y":9.4,"c":1},{"x":-0.51,"y":9.9,"c":3},{"x":-0.46,"y":6.6,"c":1},{"x":-0.76,"y":9.4,"c":3},{"x":-0.37,"y":10.3,"c":1},{"x":-0.32,"y":10.3,"c":2},{"x":-0.22,"y":10.3,"c":1},{"x":-0.32,"y":15.1,"c":3},{"x":-0.29,"y":10.3,"c":2},{"x":-0.31,"y":6.6,"c":2},{"x":-0.26,"y":5.5,"c":1},{"x":-0.18,"y":6.3,"c":3},{"x":-0.14,"y":9.9,"c":1},{"x":-0.11,"y":8.5,"c":3},{"x":-0.07,"y":6.3,"c":2},{"x":-0.14,"y":2.8,"c":3},{"x":-0.27,"y":2.8,"c":2},{"x":-0.2,"y":3.5,"c":1},{"x":-0.04,"y":10.3,"c":1},{"x":-0.03,"y":6.6,"c":2},{"x":0.04,"y":9.2,"c":3},{"x":0.09,"y":7.8,"c":2},{"x":0.12,"y":6.6,"c":1},{"x":0.15,"y":9.2,"c":3},{"x":0.23,"y":10.9,"c":3},{"x":0.24,"y":6.3,"c":2},{"x":0.27,"y":6.3,"c":1},{"x":0.34,"y":6.3,"c":1},{"x":0.4,"y":6.3,"c":2},{"x":0.52,"y":6.3,"c":1},{"x":0.53,"y":6.3,"c":2},{"x":0.76,"y":6.3,"c":3},{"x":0.56,"y":3.1,"c":1},{"x":0.45,"y":3.1,"c":2},{"x":0.35,"y":3.1,"c":1},{"x":0.18,"y":2.8,"c":1},{"x":0.13,"y":3.5,"c":2},{"x":-0.02,"y":2.1,"c":1},{"x":0.01,"y":2.1,"c":1},{"x":0.03,"y":1.3,"c":1},{"x":-0.05,"y":1.3,"c":2},{"x":0.05,"y":0.7,"c":1},{"x":-0.1,"y":0.7,"c":2},{"x":-0.02,"y":4.6,"c":3},{"x":-0.02,"y":8.5,"c":2},{"x":-0.14,"y":5.6,"c":2},{"x":-0.06,"y":15.5,"c":2},{"x":-0.07,"y":17.3,"c":1},{"x":-0.03,"y":13.4,"c":2},{"x":0.44,"y":0.7,"c":3},{"x":0.4,"y":1,"c":2},{"x":0.08,"y":1.5,"c":1},{"x":-0.06,"y":0.4,"c":1},{"x":0.1,"y":4,"c":1},{"x":0.2,"y":1.2,"c":1},{"x":-0.12,"y":1.8,"c":1}
],
"skcm_g":[
{"g":"RPL8","y":66.2,"x0":-0.97,"x1":2.2,"lx":2.2,"ly":66.2},
{"g":"RPL18","y":50,"x0":-0.97,"x1":2.2,"lx":2.2,"ly":50.8},
{"g":"RPL28","y":49.3,"x0":-0.97,"x1":2.2,"lx":2.24,"ly":47.2},
{"g":"RPS3A","y":42.3,"x0":-0.97,"x1":2.2,"lx":2.2,"ly":42.3},
{"g":"RPL30","y":34.2,"x0":-0.97,"x1":2.2,"lx":2.2,"ly":34.2}
],
"skcm_p":[
{"x":-0.56,"y":66.2,"c":1},{"x":0.65,"y":66.2,"c":3},{"x":2.04,"y":66.2,"c":2},{"x":-0.12,"y":50,"c":1},{"x":0.66,"y":50,"c":3},{"x":-0.21,"y":49.3,"c":1},{"x":-0.15,"y":49.3,"c":2},{"x":1.11,"y":49.3,"c":3},{"x":-0.25,"y":42.3,"c":3},{"x":-0.01,"y":42.3,"c":2},{"x":0.06,"y":42.3,"c":1},{"x":-0.69,"y":34.2,"c":3},{"x":-0.29,"y":34.2,"c":3},{"x":-0.07,"y":34.2,"c":1},{"x":-0.03,"y":34.2,"c":2},{"x":0.15,"y":34.2,"c":1},{"x":0.32,"y":34.2,"c":3},{"x":0.57,"y":34.2,"c":2},{"x":0.6,"y":33.6,"c":3},{"x":0.72,"y":33.8,"c":3},
{"x":-0.82,"y":23,"c":3},{"x":-0.5,"y":20.1,"c":3},{"x":-0.41,"y":21.8,"c":3},{"x":-0.36,"y":24.4,"c":3},{"x":-0.32,"y":18,"c":3},{"x":-0.21,"y":17.3,"c":3},{"x":-0.23,"y":28.2,"c":3},{"x":-0.15,"y":28.2,"c":2},{"x":-0.09,"y":28.2,"c":1},{"x":0.05,"y":28.2,"c":1},{"x":-0.09,"y":25.1,"c":2},{"x":0.07,"y":24.8,"c":1},{"x":-0.06,"y":23,"c":2},{"x":-0.13,"y":23,"c":1},{"x":0.12,"y":23,"c":1},{"x":0.15,"y":23,"c":2},{"x":-0.05,"y":20.8,"c":2},{"x":0.03,"y":21.5,"c":1},{"x":0.09,"y":22.3,"c":1},{"x":-0.09,"y":18,"c":1},{"x":-0.03,"y":18,"c":2},{"x":0.06,"y":18.3,"c":1},{"x":0.45,"y":22.3,"c":3},{"x":0.53,"y":28.6,"c":3},{"x":0.72,"y":23,"c":3},{"x":0.32,"y":18,"c":3},{"x":0.49,"y":15.9,"c":2},{"x":0.99,"y":14.2,"c":3},{"x":0.21,"y":14.5,"c":3},{"x":0.26,"y":13.8,"c":3},{"x":0.34,"y":13.1,"c":3},{"x":0.34,"y":11.7,"c":3},{"x":0.21,"y":15.2,"c":1},{"x":-0.44,"y":14.5,"c":2},{"x":-0.31,"y":14.5,"c":2},{"x":-0.65,"y":14.5,"c":3},{"x":-0.79,"y":10.3,"c":3},{"x":-0.65,"y":7.7,"c":3},{"x":-0.18,"y":12.4,"c":3},{"x":-0.12,"y":15.2,"c":1},{"x":-0.06,"y":15.2,"c":2},{"x":-0.09,"y":11.7,"c":1},{"x":0.05,"y":15.2,"c":2},{"x":0.06,"y":11.7,"c":2},{"x":0.12,"y":10.3,"c":1},{"x":-0.22,"y":9.6,"c":2},{"x":-0.21,"y":7.7,"c":2},{"x":0.18,"y":7.7,"c":1},{"x":-0.23,"y":6.1,"c":2},{"x":-0.09,"y":6.1,"c":3},{"x":0.13,"y":5.6,"c":2},{"x":0.09,"y":4.6,"c":3},{"x":-0.25,"y":3.9,"c":3},{"x":-0.32,"y":2.8,"c":2},{"x":-0.19,"y":2.5,"c":2},{"x":0.22,"y":2.5,"c":3},{"x":-0.06,"y":3.9,"c":1},{"x":0,"y":3.2,"c":1},{"x":0.03,"y":1.8,"c":1},{"x":-0.09,"y":1.4,"c":2},{"x":-0.03,"y":0.8,"c":1},{"x":0.06,"y":0.8,"c":2},{"x":-0.06,"y":9.6,"c":1},{"x":0,"y":6.8,"c":1},{"x":-0.15,"y":1.1,"c":2},{"x":-0.01,"y":19.5,"c":1},{"x":0.02,"y":13.2,"c":1},{"x":0.01,"y":5,"c":1},{"x":0.04,"y":2.5,"c":1},{"x":-0.02,"y":0.3,"c":1}
],
"cesc_g":[
{"g":"RPS4X","y":17.5,"x0":-1.66,"x1":1.33,"lx":1.33,"ly":17.5},
{"g":"RPL10","y":10.5,"x0":-1.66,"x1":1.33,"lx":1.33,"ly":10.5}
],
"cesc_p":[
{"x":-0.81,"y":17.5,"c":1},{"x":1.05,"y":17.5,"c":2},{"x":-0.22,"y":10.5,"c":1},{"x":0.51,"y":10.5,"c":2},
{"x":0.22,"y":6.9,"c":2},{"x":0.7,"y":6.9,"c":1},{"x":-0.31,"y":5.5,"c":2},{"x":0.1,"y":5.5,"c":1},{"x":-0.21,"y":4.5,"c":2},{"x":-0.06,"y":4.5,"c":1},{"x":0.23,"y":4.4,"c":2},{"x":0.66,"y":4.4,"c":1},{"x":0.64,"y":3.9,"c":1},{"x":0.36,"y":3.9,"c":2},{"x":-0.37,"y":2.3,"c":1},{"x":-0.37,"y":2,"c":2},{"x":-0.25,"y":2,"c":1},{"x":-0.18,"y":1.9,"c":1},{"x":-0.31,"y":1.5,"c":2},{"x":-0.33,"y":1.6,"c":1},{"x":-0.16,"y":1.6,"c":2},{"x":0.01,"y":2.6,"c":1},{"x":-0.03,"y":2.7,"c":2},{"x":0.03,"y":2.7,"c":2},{"x":0.11,"y":2.7,"c":1},{"x":0.19,"y":2.6,"c":1},{"x":0.16,"y":2.5,"c":2},{"x":0.33,"y":2.6,"c":1},{"x":-0.08,"y":1.8,"c":2},{"x":-0.02,"y":1.7,"c":1},{"x":0.51,"y":1.7,"c":2},{"x":0.64,"y":1.7,"c":1},{"x":0.74,"y":1.2,"c":2},{"x":0.92,"y":1.2,"c":1},{"x":-0.94,"y":1.4,"c":2},{"x":-0.84,"y":1.4,"c":1},{"x":-0.79,"y":1,"c":2},{"x":-0.7,"y":1,"c":1},{"x":-1.59,"y":0.5,"c":2},{"x":-1.51,"y":0.5,"c":1},{"x":0.79,"y":0.5,"c":1},{"x":0.85,"y":0.5,"c":2},{"x":0.98,"y":0.2,"c":2},{"x":1.07,"y":0.1,"c":1},{"x":1.01,"y":0.1,"c":1},{"x":-0.4,"y":0.7,"c":2},{"x":-0.31,"y":0.7,"c":1},{"x":-0.22,"y":0.6,"c":2},{"x":-0.13,"y":0.6,"c":1},{"x":-0.08,"y":0.7,"c":1},{"x":-0.02,"y":0.4,"c":2},{"x":0.04,"y":0.35,"c":1},{"x":0.13,"y":0.7,"c":2},{"x":0.19,"y":0.8,"c":1},{"x":0.25,"y":0.8,"c":2},{"x":0.3,"y":1,"c":2},{"x":0.39,"y":0.5,"c":1},{"x":-0.25,"y":0.1,"c":1},{"x":-0.16,"y":0.1,"c":1},{"x":-0.1,"y":0.2,"c":2},{"x":0.1,"y":0.2,"c":1},{"x":0.28,"y":0.1,"c":1},{"x":0.25,"y":0.5,"c":2},{"x":-0.37,"y":0.3,"c":1},{"x":-0.09,"y":0.4,"c":1},{"x":0.06,"y":1.2,"c":1},{"x":-0.05,"y":1,"c":1}
],
"gbm_g":[
{"g":"RPL17","y":223.5,"x0":-1.71,"x1":1.57,"lx":-1.76,"ly":223.5},
{"g":"RPL3","y":216.7,"x0":-1.71,"x1":1.57,"lx":-1.76,"ly":216.7},
{"g":"RPL41","y":205.9,"x0":-1.71,"x1":1.57,"lx":-1.76,"ly":206.9},
{"g":"RPL12","y":205.5,"x0":-1.71,"x1":1.57,"lx":-1.76,"ly":202.3},
{"g":"RPL13A","y":186.5,"x0":-1.71,"x1":1.57,"lx":-1.76,"ly":187.6},
{"g":"RPS27A","y":186,"x0":-1.71,"x1":1.57,"lx":-1.76,"ly":181.7},
{"g":"RPL4","y":168.3,"x0":-1.71,"x1":1.57,"lx":-1.76,"ly":168.3},
{"g":"RPS8","y":152.2,"x0":-1.71,"x1":0.79,"lx":-1.76,"ly":152.6},
{"g":"RPL27","y":148.5,"x0":-1.71,"x1":0.79,"lx":-1.76,"ly":148.3},
{"g":"RPS12","y":142.4,"x0":-1.71,"x1":0.79,"lx":-1.76,"ly":142.4}
],
"gbm_p":[
{"x":-0.5,"y":223.5,"c":3},{"x":-0.09,"y":223.5,"c":4},{"x":0,"y":223.5,"c":1},
{"x":-1.78,"y":216.7,"c":3},{"x":-0.8,"y":216.7,"c":4},{"x":0.4,"y":216.7,"c":1},{"x":1.1,"y":216.7,"c":5},
{"x":-0.55,"y":205.9,"c":2},{"x":-0.49,"y":205.9,"c":5},{"x":-0.45,"y":205.4,"c":3},{"x":-0.39,"y":206.3,"c":4},{"x":-0.11,"y":205.9,"c":1},{"x":0,"y":205.6,"c":1},{"x":0.08,"y":205.6,"c":4},{"x":0.03,"y":205.4,"c":5},{"x":1.26,"y":205.9,"c":3},
{"x":-0.73,"y":186.5,"c":3},{"x":-0.63,"y":186,"c":3},{"x":-0.12,"y":186.5,"c":2},{"x":-0.03,"y":186,"c":5},{"x":0.06,"y":186.5,"c":1},{"x":0.08,"y":187,"c":1},{"x":0.47,"y":186.8,"c":4},{"x":0.53,"y":186.7,"c":2},{"x":-0.12,"y":185.6,"c":5},
{"x":-1.26,"y":168.3,"c":3},{"x":-0.56,"y":168.3,"c":4},{"x":0.27,"y":168.3,"c":1},{"x":0.32,"y":168.3,"c":2},{"x":1.03,"y":168.3,"c":5},
{"x":-0.21,"y":152.2,"c":5},{"x":0.04,"y":152.2,"c":1},{"x":0.35,"y":152.2,"c":4},{"x":0.53,"y":152.2,"c":2},{"x":0.66,"y":152.2,"c":3},
{"x":-0.38,"y":148.5,"c":5},{"x":-0.35,"y":148.5,"c":2},{"x":-0.26,"y":148.5,"c":4},{"x":-0.25,"y":148.5,"c":1},{"x":0.43,"y":148.5,"c":3},
{"x":-0.53,"y":142.4,"c":3},{"x":-0.02,"y":142.4,"c":4},{"x":0.02,"y":142.4,"c":2},{"x":0.12,"y":142.4,"c":1},{"x":0.39,"y":142.4,"c":5}
],
"brca_s":[
{"c":1,"t":0,"s":100},{"c":1,"t":300,"s":97},{"c":1,"t":600,"s":94},{"c":1,"t":900,"s":91},{"c":1,"t":1200,"s":88},{"c":1,"t":1500,"s":85},{"c":1,"t":1800,"s":82},{"c":1,"t":2100,"s":78},{"c":1,"t":2400,"s":74},{"c":1,"t":2700,"s":71},{"c":1,"t":3000,"s":70},{"c":1,"t":3300,"s":68},{"c":1,"t":3700,"s":68},
{"c":3,"t":0,"s":100},{"c":3,"t":400,"s":96},{"c":3,"t":800,"s":92},{"c":3,"t":1200,"s":88},{"c":3,"t":1600,"s":84},{"c":3,"t":2000,"s":80},{"c":3,"t":2400,"s":74},{"c":3,"t":2800,"s":68},{"c":3,"t":3200,"s":64},{"c":3,"t":3700,"s":64},
{"c":4,"t":0,"s":100},{"c":4,"t":400,"s":98},{"c":4,"t":800,"s":95},{"c":4,"t":1200,"s":92},{"c":4,"t":1600,"s":89},{"c":4,"t":2000,"s":85},{"c":4,"t":2400,"s":80},{"c":4,"t":2800,"s":75},{"c":4,"t":3200,"s":68},{"c":4,"t":3450,"s":60},{"c":4,"t":3550,"s":54},{"c":4,"t":3700,"s":54}
],
"lihc_s":[
{"c":2,"t":0,"s":100},{"c":2,"t":100,"s":93},{"c":2,"t":200,"s":87},{"c":2,"t":300,"s":80},{"c":2,"t":400,"s":75},{"c":2,"t":500,"s":70},{"c":2,"t":600,"s":65},{"c":2,"t":700,"s":62},{"c":2,"t":800,"s":59},{"c":2,"t":900,"s":57},{"c":2,"t":1000,"s":56},{"c":2,"t":1200,"s":54},{"c":2,"t":1400,"s":52},{"c":2,"t":1600,"s":50},{"c":2,"t":1800,"s":47},{"c":2,"t":3250,"s":31},{"c":2,"t":3700,"s":31},
{"c":1,"t":0,"s":100},{"c":1,"t":100,"s":95},{"c":1,"t":200,"s":90},{"c":1,"t":300,"s":85},{"c":1,"t":400,"s":80},{"c":1,"t":500,"s":77},{"c":1,"t":700,"s":72},{"c":1,"t":900,"s":67},{"c":1,"t":1100,"s":62},{"c":1,"t":1300,"s":58},{"c":1,"t":1500,"s":55},{"c":1,"t":1700,"s":52},{"c":1,"t":2150,"s":45},{"c":1,"t":2500,"s":37},{"c":1,"t":2550,"s":23},{"c":1,"t":3150,"s":12},{"c":1,"t":3330,"s":12}
],
"ucec_s":[
{"c":2,"t":0,"s":100},{"c":2,"t":200,"s":98},{"c":2,"t":500,"s":96},{"c":2,"t":800,"s":94},{"c":2,"t":1200,"s":91},{"c":2,"t":1600,"s":89},{"c":2,"t":2000,"s":87},{"c":2,"t":2400,"s":85},{"c":2,"t":2800,"s":83},{"c":2,"t":3200,"s":81},{"c":2,"t":3500,"s":78},{"c":2,"t":3700,"s":78},
{"c":3,"t":0,"s":100},{"c":3,"t":300,"s":97},{"c":3,"t":700,"s":94},{"c":3,"t":1100,"s":92},{"c":3,"t":1500,"s":90},{"c":3,"t":2000,"s":88},{"c":3,"t":2500,"s":86},{"c":3,"t":3000,"s":85},{"c":3,"t":3390,"s":45},{"c":3,"t":3700,"s":45},
{"c":1,"t":0,"s":100},{"c":1,"t":100,"s":96},{"c":1,"t":300,"s":92},{"c":1,"t":500,"s":88},{"c":1,"t":800,"s":85},{"c":1,"t":1000,"s":82},{"c":1,"t":1400,"s":80},{"c":1,"t":1800,"s":78},{"c":1,"t":2200,"s":75},{"c":1,"t":2600,"s":73},{"c":1,"t":3000,"s":70},{"c":1,"t":3300,"s":68},{"c":1,"t":3390,"s":44},{"c":1,"t":3700,"s":44}
],
"kirc_s":[
{"c":2,"t":0,"s":100},{"c":2,"t":100,"s":99},{"c":2,"t":200,"s":98},{"c":2,"t":300,"s":97},{"c":2,"t":400,"s":96},{"c":2,"t":600,"s":94},{"c":2,"t":800,"s":92},{"c":2,"t":1000,"s":90},{"c":2,"t":1200,"s":88},{"c":2,"t":1400,"s":87},{"c":2,"t":1600,"s":85},{"c":2,"t":1800,"s":84},{"c":2,"t":2000,"s":83},{"c":2,"t":2200,"s":81},{"c":2,"t":2400,"s":79},{"c":2,"t":2600,"s":77},{"c":2,"t":2760,"s":72},{"c":2,"t":3620,"s":72},
{"c":1,"t":0,"s":100},{"c":1,"t":50,"s":97},{"c":1,"t":100,"s":94},{"c":1,"t":200,"s":90},{"c":1,"t":300,"s":88},{"c":1,"t":500,"s":85},{"c":1,"t":700,"s":83},{"c":1,"t":900,"s":80},{"c":1,"t":1100,"s":78},{"c":1,"t":1500,"s":77},{"c":1,"t":1600,"s":72},{"c":1,"t":1700,"s":68},{"c":1,"t":1900,"s":66},{"c":1,"t":2100,"s":63},{"c":1,"t":2250,"s":60},{"c":1,"t":2400,"s":56},{"c":1,"t":2550,"s":52},{"c":1,"t":2760,"s":47},{"c":1,"t":3620,"s":47},
{"c":3,"t":0,"s":100},{"c":3,"t":50,"s":97},{"c":3,"t":100,"s":95},{"c":3,"t":200,"s":92},{"c":3,"t":300,"s":89},{"c":3,"t":400,"s":86},{"c":3,"t":500,"s":84},{"c":3,"t":700,"s":81},{"c":3,"t":900,"s":77},{"c":3,"t":1100,"s":73},{"c":3,"t":1300,"s":68},{"c":3,"t":1500,"s":63},{"c":3,"t":1600,"s":55},{"c":3,"t":1700,"s":52},{"c":3,"t":2000,"s":50},{"c":3,"t":2200,"s":48},{"c":3,"t":2400,"s":45},{"c":3,"t":2500,"s":41},{"c":3,"t":2600,"s":36},{"c":3,"t":3530,"s":31},{"c":3,"t":3580,"s":25},{"c":3,"t":3620,"s":25}
],
"skcm_s":[
{"c":1,"t":0,"s":100},{"c":1,"t":150,"s":97},{"c":1,"t":300,"s":94},{"c":1,"t":450,"s":91},{"c":1,"t":600,"s":88},{"c":1,"t":800,"s":83},{"c":1,"t":1000,"s":78},{"c":1,"t":1200,"s":74},{"c":1,"t":1400,"s":71},{"c":1,"t":1600,"s":68},{"c":1,"t":1800,"s":64},{"c":1,"t":2000,"s":61},{"c":1,"t":2200,"s":58},{"c":1,"t":2500,"s":55},{"c":1,"t":2800,"s":53},{"c":1,"t":3100,"s":51},{"c":1,"t":3400,"s":49},{"c":1,"t":3700,"s":46},{"c":1,"t":4000,"s":42},{"c":1,"t":4400,"s":40},{"c":1,"t":4700,"s":38},{"c":1,"t":5000,"s":35},{"c":1,"t":5300,"s":31},{"c":1,"t":5500,"s":28},{"c":1,"t":6300,"s":24},{"c":1,"t":6700,"s":22},{"c":1,"t":7000,"s":20},{"c":1,"t":7200,"s":17},{"c":1,"t":7350,"s":14},
{"c":3,"t":0,"s":100},{"c":3,"t":200,"s":97},{"c":3,"t":350,"s":93},{"c":3,"t":500,"s":90},{"c":3,"t":650,"s":85},{"c":3,"t":750,"s":80},{"c":3,"t":850,"s":75},{"c":3,"t":1000,"s":70},{"c":3,"t":1150,"s":65},{"c":3,"t":1300,"s":62},{"c":3,"t":1450,"s":57},{"c":3,"t":1550,"s":52},{"c":3,"t":1650,"s":47},{"c":3,"t":1800,"s":42},{"c":3,"t":1950,"s":38},{"c":3,"t":2100,"s":35},{"c":3,"t":2400,"s":31},{"c":3,"t":3600,"s":28},{"c":3,"t":3850,"s":25},{"c":3,"t":4050,"s":15},{"c":3,"t":5380,"s":7},{"c":3,"t":6700,"s":7}
],
"cesc_s":[
{"c":2,"t":0,"s":100},{"c":2,"t":350,"s":97},{"c":2,"t":450,"s":93},{"c":2,"t":550,"s":90},{"c":2,"t":650,"s":87},{"c":2,"t":750,"s":84},{"c":2,"t":900,"s":81},{"c":2,"t":2840,"s":71},{"c":2,"t":3600,"s":71},
{"c":1,"t":0,"s":100},{"c":1,"t":100,"s":98},{"c":1,"t":200,"s":96},{"c":1,"t":300,"s":94},{"c":1,"t":400,"s":92},{"c":1,"t":500,"s":89},{"c":1,"t":600,"s":86},{"c":1,"t":700,"s":84},{"c":1,"t":800,"s":82},{"c":1,"t":900,"s":80},{"c":1,"t":1000,"s":78},{"c":1,"t":1150,"s":75},{"c":1,"t":1300,"s":72},{"c":1,"t":1450,"s":67},{"c":1,"t":2030,"s":57},{"c":1,"t":2470,"s":54},{"c":1,"t":2950,"s":50},{"c":1,"t":3080,"s":43},{"c":1,"t":3600,"s":43}
],
"gbm_s":[
{"c":3,"t":0,"s":100},{"c":3,"t":50,"s":95},{"c":3,"t":100,"s":90},{"c":3,"t":150,"s":84},{"c":3,"t":200,"s":78},{"c":3,"t":250,"s":72},{"c":3,"t":300,"s":65},{"c":3,"t":350,"s":58},{"c":3,"t":400,"s":52},{"c":3,"t":450,"s":46},{"c":3,"t":500,"s":40},{"c":3,"t":550,"s":34},{"c":3,"t":600,"s":29},{"c":3,"t":700,"s":22},{"c":3,"t":800,"s":17},{"c":3,"t":900,"s":13},{"c":3,"t":1000,"s":11},{"c":3,"t":1200,"s":8},{"c":3,"t":1400,"s":5},{"c":3,"t":1550,"s":2},{"c":3,"t":1650,"s":0},
{"c":4,"t":0,"s":100},{"c":4,"t":100,"s":98},{"c":4,"t":200,"s":95},{"c":4,"t":300,"s":91},{"c":4,"t":400,"s":86},{"c":4,"t":500,"s":80},{"c":4,"t":600,"s":75},{"c":4,"t":700,"s":70},{"c":4,"t":800,"s":64},{"c":4,"t":900,"s":57},{"c":4,"t":1000,"s":50},{"c":4,"t":1100,"s":45},{"c":4,"t":1250,"s":42},{"c":4,"t":1400,"s":39},{"c":4,"t":1550,"s":35},{"c":4,"t":1700,"s":30},{"c":4,"t":1900,"s":23},{"c":4,"t":2900,"s":19},{"c":4,"t":4020,"s":7},{"c":4,"t":6000,"s":7},
{"c":2,"t":0,"s":100},{"c":2,"t":400,"s":99},{"c":2,"t":700,"s":97},{"c":2,"t":900,"s":95},{"c":2,"t":1100,"s":92},{"c":2,"t":1300,"s":88},{"c":2,"t":1500,"s":84},{"c":2,"t":1700,"s":79},{"c":2,"t":1900,"s":76},{"c":2,"t":2100,"s":73},{"c":2,"t":2300,"s":69},{"c":2,"t":2500,"s":65},{"c":2,"t":2700,"s":60},{"c":2,"t":2900,"s":56},{"c":2,"t":3100,"s":52},{"c":2,"t":3300,"s":47},{"c":2,"t":3500,"s":42},{"c":2,"t":3700,"s":36},{"c":2,"t":3850,"s":30},{"c":2,"t":4000,"s":24},{"c":2,"t":4200,"s":17},{"c":2,"t":4300,"s":11},{"c":2,"t":5170,"s":11},
{"c":5,"t":0,"s":100},{"c":5,"t":500,"s":98},{"c":5,"t":900,"s":95},{"c":5,"t":1100,"s":91},{"c":5,"t":1300,"s":87},{"c":5,"t":1600,"s":84},{"c":5,"t":1800,"s":80},{"c":5,"t":2000,"s":77},{"c":5,"t":2300,"s":73},{"c":5,"t":2600,"s":69},{"c":5,"t":2900,"s":63},{"c":5,"t":4010,"s":52},{"c":5,"t":4680,"s":38},{"c":5,"t":5080,"s":26},{"c":5,"t":5490,"s":26}
]
}
}
